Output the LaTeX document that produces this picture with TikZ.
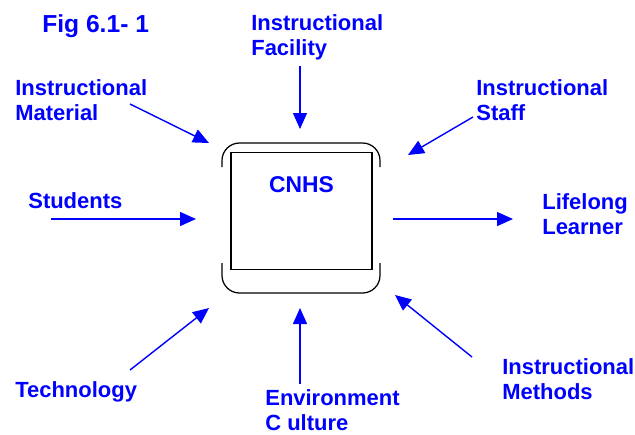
\documentclass[tikz,border=0pt]{standalone}
\usepackage{fontspec}
\setmainfont{Liberation Sans}
\usetikzlibrary{arrows.meta, positioning}

\begin{document}
\begin{tikzpicture}[x=0.02cm, y=-0.02cm,
    lbl/.style={anchor=west, align=left, text=blue, inner sep=0pt, font=\fontsize{12.5}{14.2}\selectfont\bfseries},
    bracket/.style={draw, line width=0.7pt, rounded corners=0.35cm},
    arrow/.style={blue, line width=0.8pt, -{Triangle[length=3.2mm, width=2.8mm]}}]
    \useasboundingbox (0,0) rectangle (635,434);

    \node[lbl, font=\fontsize{14}{16}\selectfont\bfseries] (fig) at (42,26) {Fig 6.1- 1};

    \node[draw, line width=1.1pt, minimum width=2.82cm, minimum height=2.34cm, inner sep=0pt] (cnhs) at (301.5,211) {};
    \node[lbl, below=0.5cm of cnhs.north, font=\fontsize{13}{15}\selectfont\bfseries] (cnhstxt) {CNHS};
    \draw[bracket] (222,167) -- (222,143) -- (380,143) -- (380,167);
    \draw[bracket] (222,263) -- (222,293) -- (380,293) -- (380,263);

    \node[lbl] (material) at (15,100.5) {Instructional\\Material};
    \node[lbl] (facility) at (251,37) {Instructional\\Facility};
    \node[lbl] (staff) at (476,100.5) {Instructional\\Staff};
    \node[lbl] (students) at (28,201) {Students};
    \node[lbl] (lifelong) at (542,214) {Lifelong\\Learner};
    \node[lbl] (technology) at (15,392) {Technology};
    \node[lbl] (culture) at (265,410) {Environment\\C ulture};
    \node[lbl] (methods) at (502,379) {Instructional\\Methods};

    \coordinate (materialS) at (130,104);
    \coordinate (materialE) at (209,143);
    \coordinate (facilityS) at (300,66);
    \coordinate (facilityE) at (300,129);
    \coordinate (staffS) at (473,117);
    \coordinate (staffE) at (408,155);
    \coordinate (studentsS) at (51,219);
    \coordinate (studentsE) at (196,219);
    \coordinate (lifelongS) at (393,219);
    \coordinate (lifelongE) at (513,219);
    \coordinate (technologyS) at (130,370);
    \coordinate (technologyE) at (209,308);
    \coordinate (cultureS) at (300,384);
    \coordinate (cultureE) at (300,308);
    \coordinate (methodsS) at (472,357);
    \coordinate (methodsE) at (395,295);

    \draw[arrow] (materialS) -- (materialE);
    \draw[arrow] (facilityS) -- (facilityE);
    \draw[arrow] (staffS) -- (staffE);
    \draw[arrow] (studentsS) -- (studentsE);
    \draw[arrow] (lifelongS) -- (lifelongE);
    \draw[arrow] (technologyS) -- (technologyE);
    \draw[arrow] (cultureS) -- (cultureE);
    \draw[arrow] (methodsS) -- (methodsE);
\end{tikzpicture}
\end{document}
